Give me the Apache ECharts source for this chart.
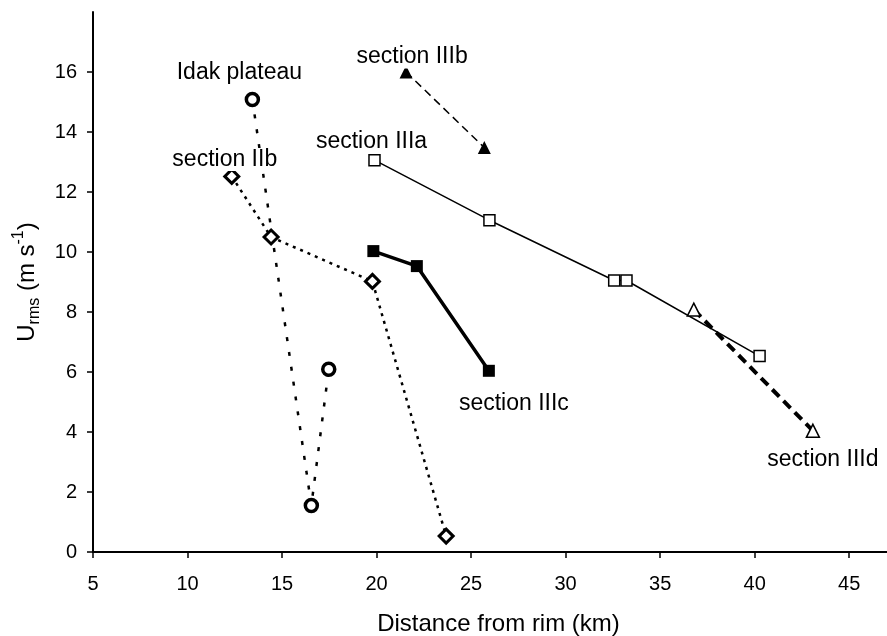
<!DOCTYPE html>
<html>
<head>
<meta charset="utf-8">
<script src="https://cdn.jsdelivr.net/npm/echarts@6.0.0/dist/echarts.min.js"></script>
<style>
  html, body { margin: 0; padding: 0; background: #fff; }
  #main { width: 887px; height: 636px; }
</style>
</head>
<body>
<div id="main"></div>
<script>
// tick values
var xTicks = [5, 10, 15, 20, 25, 30, 35, 40, 45];
var yTicks = [0, 2, 4, 6, 8, 10, 12, 14, 16];

// [distance km, Urms m/s]
var idakPlateau = [[13.43, 15.08], [16.55, 1.55], [17.47, 6.09]];
var sectionIIb = [[12.34, 12.52], [14.42, 10.5], [19.78, 9.02], [23.68, 0.53]];
var sectionIIIa = [[19.89, 13.06], [25.97, 11.06], [32.57, 9.05], [33.22, 9.05], [40.26, 6.53]];
var sectionIIIb = [[21.56, 16.0], [25.7, 13.48]];
var sectionIIIc = [[19.83, 10.03], [22.13, 9.53], [25.94, 6.04]];
var sectionIIId = [[36.78, 8.08], [43.08, 4.04]];

var font = "Liberation Sans, Arial, Helvetica, sans-serif";

// put a text label next to one point of a series
function withLabel(points, idx, text, offset) {
  return points.map(function (p, i) {
    if (i !== idx) return p;
    return {
      value: p,
      label: {
        show: true,
        position: "inside",
        offset: offset,
        formatter: text,
        fontFamily: font,
        fontSize: 23,
        color: "#000",
        backgroundColor: "#fff",
      },
    };
  });
}

function makeSeries(name, data, symbol, size, fill, border, line) {
  return {
    name: name,
    type: "line",
    data: data,
    symbol: symbol,
    symbolSize: size,
    showAllSymbol: true,
    itemStyle: { color: fill, borderColor: "#000", borderWidth: border },
    lineStyle: line,
    emphasis: { disabled: true },
  };
}

var myChart = echarts.init(document.getElementById("main"));
myChart.setOption({
  animation: false,
  backgroundColor: "#fff",
  grid: { left: 93, right: 0, top: 12, bottom: 84, outerBoundsMode: "none" },
  xAxis: {
    type: "value",
    min: 5,
    max: 47,
    interval: 5,
    name: "Distance from rim (km)",
    nameLocation: "middle",
    nameGap: 60,
    nameTextStyle: { fontFamily: font, fontSize: 24, color: "#000", padding: [0, 0, 0, 17] },
    axisLine: { lineStyle: { color: "#000", width: 2 } },
    axisTick: { show: true, length: 6, lineStyle: { color: "#000", width: 1.5 }, customValues: xTicks },
    axisLabel: { fontFamily: font, fontSize: 20, color: "#000", margin: 22, customValues: xTicks },
    splitLine: { show: false },
  },
  yAxis: {
    type: "value",
    min: 0,
    max: 18,
    interval: 2,
    name: "{a|U}{sub|rms}{a| (m s}{sup|-1}{a|)}",
    nameLocation: "middle",
    nameRotate: 90,
    nameGap: 50,
    nameTextStyle: {
      fontFamily: font,
      fontSize: 24,
      color: "#000",
      rich: {
        a: { fontFamily: font, fontSize: 24, color: "#000", lineHeight: 32 },
        sub: { fontFamily: font, fontSize: 16, color: "#000", lineHeight: 32, verticalAlign: "bottom" },
        sup: { fontFamily: font, fontSize: 16, color: "#000", lineHeight: 32, verticalAlign: "top" },
      },
    },
    axisLine: { show: true, lineStyle: { color: "#000", width: 2 } },
    axisTick: { show: true, length: 6, lineStyle: { color: "#000", width: 1.5 }, customValues: yTicks },
    axisLabel: { fontFamily: font, fontSize: 20, color: "#000", margin: 16, customValues: yTicks },
    splitLine: { show: false },
  },
  series: [
    makeSeries("Idak plateau", withLabel(idakPlateau, 0, "Idak plateau", [-13, -27]),
      "circle", 12, "#fff", 3.5, { color: "#000", width: 2.5, type: [4, 11] }),
    makeSeries("section IIb", withLabel(sectionIIb, 0, "section IIb", [-7, -17]),
      "diamond", 14, "#fff", 3, { color: "#000", width: 2.5, type: [3, 5] }),
    makeSeries("section IIIa", withLabel(sectionIIIa, 0, "section IIIa", [-3, -19]),
      "rect", 11, "#fff", 1.5, { color: "#000", width: 1.5, type: "solid" }),
    makeSeries("section IIIb", withLabel(sectionIIIb, 0, "section IIIb", [6, -15]),
      "triangle", 13, "#000", 0, { color: "#000", width: 1.5, type: [8, 5] }),
    makeSeries("section IIIc", withLabel(sectionIIIc, 2, "section IIIc", [25, 33]),
      "rect", 12, "#000", 0, { color: "#000", width: 3.5, type: "solid" }),
    makeSeries("section IIId", withLabel(sectionIIId, 1, "section IIId", [10, 29]),
      "triangle", 13, "#fff", 1.5, { color: "#000", width: 4, type: [10, 6] }),
  ],
});
</script>
</body>
</html>
